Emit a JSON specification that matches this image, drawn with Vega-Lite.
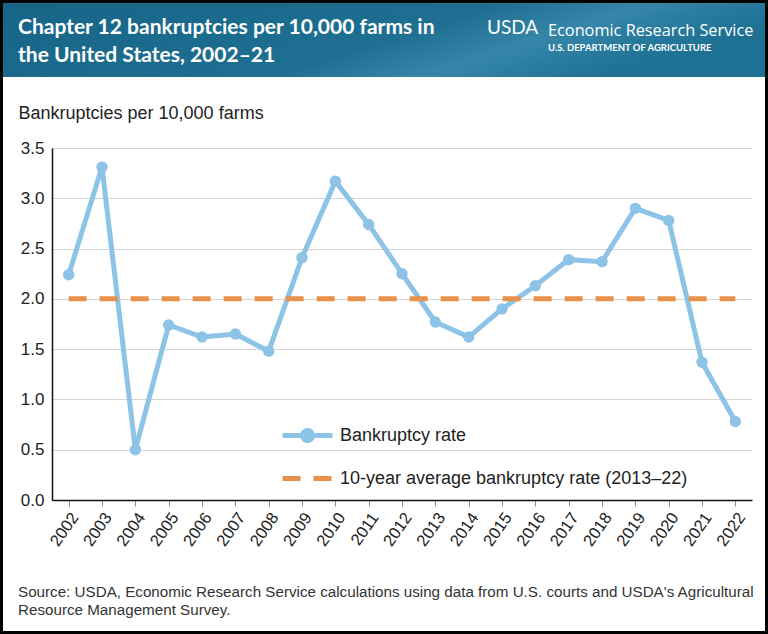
{
  "$schema": "https://vega.github.io/schema/vega-lite/v6.json",
  "background": "white",
  "padding": 0,
  "width": 700,
  "height": 352,
  "config": {
    "font": "Liberation Sans",
    "view": {"stroke": null},
    "axisX": {"title": null, "labelAngle": -55, "labelAlign": "right", "labelBaseline": "middle", "labelFontSize": 16.5, "labelColor": "#222", "labelOffset": 6, "tickColor": "#888", "tickSize": 6, "domainColor": "#111", "domainWidth": 1.5, "labelPadding": 8, "grid": false},
    "axisY": {"titleAngle": 0, "titleAlign": "left", "titleBaseline": "alphabetic", "titleX": -34, "titleY": -30, "titleFontSize": 18, "titleFontWeight": "normal", "titleColor": "#222", "labelFontSize": 17, "labelColor": "#222", "labelPadding": 8, "ticks": false, "domainColor": "#111", "domainWidth": 1.5, "gridColor": "#d5d5d5", "gridWidth": 1.2}
  },
  "title": {
    "text": ["Source: USDA, Economic Research Service calculations using data from U.S. courts and USDA's Agricultural", "Resource Management Survey."],
    "orient": "bottom", "anchor": "start", "dx": 18, "fontSize": 15.2, "fontWeight": "normal", "color": "#333", "lineHeight": 18, "offset": -49, "font": "Liberation Sans"
  },
  "layer": [
    {
      "data": {"values": [{}]},
      "mark": {
        "type": "rect",
        "fill": {
          "gradient": "linear", "x1": 0, "y1": 0, "x2": 1, "y2": 0.3,
          "stops": [
            {"offset": 0, "color": "#176587"},
            {"offset": 0.6, "color": "#1e6f92"},
            {"offset": 0.78, "color": "#3586a8"},
            {"offset": 0.9, "color": "#287a9d"},
            {"offset": 1, "color": "#1f7194"}
          ]
        }
      },
      "encoding": {"x": {"value": -49}, "x2": {"value": 713}, "y": {"value": -145}, "y2": {"value": -71}}
    },
    {
      "data": {"values": [{"t": "Chapter 12 bankruptcies per 10,000 farms in"}]},
      "mark": {"type": "text", "font": "Lato", "fontWeight": "bold", "fontSize": 21, "color": "white", "align": "left", "baseline": "alphabetic"},
      "encoding": {"text": {"field": "t"}, "x": {"value": -34}, "y": {"value": -114}}
    },
    {
      "data": {"values": [{"t": "the United States, 2002–21"}]},
      "mark": {"type": "text", "font": "Lato", "fontWeight": "bold", "fontSize": 21, "color": "white", "align": "left", "baseline": "alphabetic"},
      "encoding": {"text": {"field": "t"}, "x": {"value": -34}, "y": {"value": -86}}
    },
    {
      "data": {"values": [{"t": "USDA"}]},
      "mark": {"type": "text", "font": "Lato", "fontWeight": "normal", "fontSize": 19, "color": "white", "align": "left", "baseline": "alphabetic"},
      "encoding": {"text": {"field": "t"}, "x": {"value": 435}, "y": {"value": -114}}
    },
    {
      "data": {"values": [{"t": "Economic Research Service"}]},
      "mark": {"type": "text", "font": "Open Sans", "fontSize": 16.3, "color": "white", "align": "left", "baseline": "alphabetic"},
      "encoding": {"text": {"field": "t"}, "x": {"value": 496}, "y": {"value": -112}}
    },
    {
      "data": {"values": [{"t": "U.S. DEPARTMENT OF AGRICULTURE"}]},
      "mark": {"type": "text", "font": "Lato", "fontWeight": "bold", "fontSize": 9.5, "color": "white", "align": "left", "baseline": "alphabetic"},
      "encoding": {"text": {"field": "t"}, "x": {"value": 496}, "y": {"value": -97}}
    },
    {
      "data": {"values": [
        {"year": 2002, "rate": 2.24, "series": "Bankruptcy rate"},
        {"year": 2003, "rate": 3.31, "series": "Bankruptcy rate"},
        {"year": 2004, "rate": 0.50, "series": "Bankruptcy rate"},
        {"year": 2005, "rate": 1.74, "series": "Bankruptcy rate"},
        {"year": 2006, "rate": 1.62, "series": "Bankruptcy rate"},
        {"year": 2007, "rate": 1.65, "series": "Bankruptcy rate"},
        {"year": 2008, "rate": 1.48, "series": "Bankruptcy rate"},
        {"year": 2009, "rate": 2.41, "series": "Bankruptcy rate"},
        {"year": 2010, "rate": 3.17, "series": "Bankruptcy rate"},
        {"year": 2011, "rate": 2.74, "series": "Bankruptcy rate"},
        {"year": 2012, "rate": 2.25, "series": "Bankruptcy rate"},
        {"year": 2013, "rate": 1.77, "series": "Bankruptcy rate"},
        {"year": 2014, "rate": 1.62, "series": "Bankruptcy rate"},
        {"year": 2015, "rate": 1.90, "series": "Bankruptcy rate"},
        {"year": 2016, "rate": 2.13, "series": "Bankruptcy rate"},
        {"year": 2017, "rate": 2.39, "series": "Bankruptcy rate"},
        {"year": 2018, "rate": 2.37, "series": "Bankruptcy rate"},
        {"year": 2019, "rate": 2.90, "series": "Bankruptcy rate"},
        {"year": 2020, "rate": 2.78, "series": "Bankruptcy rate"},
        {"year": 2021, "rate": 1.37, "series": "Bankruptcy rate"},
        {"year": 2022, "rate": 0.78, "series": "Bankruptcy rate"}
      ]},
      "mark": {"type": "line", "strokeWidth": 5, "point": {"filled": true, "size": 130}},
      "encoding": {
        "x": {"field": "year", "type": "ordinal", "scale": {"type": "point", "padding": 0.5}},
        "y": {"field": "rate", "type": "quantitative", "scale": {"domain": [0, 3.5]}, "title": "Bankruptcies per 10,000 farms", "axis": {"values": [0, 0.5, 1, 1.5, 2, 2.5, 3, 3.5], "format": ".1f"}},
        "color": {
          "field": "series", "type": "nominal",
          "scale": {"domain": ["Bankruptcy rate", "10-year average bankruptcy rate (2013–22)"], "range": ["#8cc3e7", "#e8914a"]},
          "legend": {
            "orient": "none", "legendX": 228, "legendY": 260, "title": null, "symbolType": "stroke", "symbolSize": 2500, "symbolStrokeWidth": 5,
            "labelFontSize": 18, "labelColor": "#222", "labelOffset": 5, "rowPadding": -20, "labelLimit": 500, "direction": "vertical", "padding": 0,
            "encode": {
              "symbols": {
                "update": {
                  "shape": {"signal": "datum.value === 'Bankruptcy rate' ? 'M-1,0L1,0M-0.2,0A0.2,0.2,0,1,0,0.2,0A0.2,0.2,0,1,0,-0.2,0Z' : 'stroke'"},
                  "fill": {"signal": "datum.value === 'Bankruptcy rate' ? '#8cc3e7' : 'transparent'"},
                  "strokeDash": {"signal": "datum.value === 'Bankruptcy rate' ? [1,0] : [18,13]"}
                }
              }
            }
          }
        }
      }
    },
    {
      "data": {"values": [
        {"year": 2002, "rate": 2.0, "series": "10-year average bankruptcy rate (2013–22)"},
        {"year": 2022, "rate": 2.0, "series": "10-year average bankruptcy rate (2013–22)"}
      ]},
      "mark": {"type": "line", "strokeWidth": 5, "strokeDash": [18, 13], "strokeCap": "butt"},
      "encoding": {
        "x": {"field": "year", "type": "ordinal"},
        "y": {"field": "rate", "type": "quantitative", "title": "Bankruptcies per 10,000 farms"},
        "color": {"field": "series", "type": "nominal"}
      }
    },
    {
      "data": {"values": [{}]},
      "mark": {"type": "rect", "fill": "transparent", "stroke": "#000", "strokeWidth": 3},
      "encoding": {"x": {"value": -50.5}, "x2": {"value": 714.5}, "y": {"value": -146.5}, "y2": {"value": 484.5}}
    }
  ]
}
